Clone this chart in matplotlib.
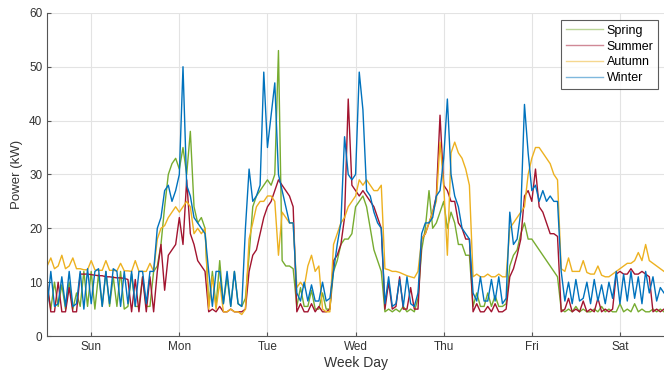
import matplotlib
matplotlib.use("Agg")
import matplotlib.pyplot as plt
import numpy as np

plt.rcParams['font.family'] = ['Liberation Sans', 'DejaVu Sans']

# hourly power readings (kW), hour 0 = Sunday 00:00, hour 168 = end of Saturday
day_labels = ["Sun", "Mon", "Tue", "Wed", "Thu", "Fri", "Sat"]
series_names = ["Spring", "Summer", "Autumn", "Winter"]

spring = [
    9, 5, 10, 5.5, 9.5, 5, 10, 5, 8,
    5.5, 12, 5.5, 12, 5, 11.5, 5.5, 12, 5.5, 11, 5.5, 12, 5, 5.5, 11.5, 5.5, 5.5, 11, 5.5, 5.5, 12,
    13, 17, 24, 30, 32, 33, 31, 35, 30, 38, 24, 21, 22, 20,
    5.5, 12, 5.5, 14, 6, 11, 5.5, 12, 6, 5.5,
    7, 15, 24, 26, 27, 28, 29, 28, 30, 53, 14, 13, 13, 12.5,
    5.5, 9, 5.5, 5.5, 8.5, 5, 5, 8, 5, 5,
    12, 14, 17, 18, 18, 19, 24, 25, 26, 24, 20, 16, 14, 12,
    4.5, 5, 4.5, 5, 4.5, 5.5, 4.5, 5, 4.5, 7,
    16, 20, 27, 20, 21, 23, 25, 20, 23, 21, 17, 17, 15, 15,
    5.5, 8, 5.5, 5.5, 8, 5.5, 7.5, 5.5, 5.5, 6,
    13, 15, 16, 19, 21, 18, 18, 17, 16, 15, 14, 13, 12, 11,
    5, 4.5, 5, 4.5, 5.5, 4.5, 5, 4.5, 4.5, 5, 4.5, 5.5, 4.5, 5, 4.5,
    4.5, 6, 4.5, 5, 4.5, 6, 4.5, 5, 4.5, 4.5, 5, 4.5, 5, 4.5,
]

summer = [
    10, 4.5, 4.5, 10, 4.5, 4.5, 9, 4.5, 4.5,
    11.5, 11.5, 11.5, 11.4, 11.3, 11.2, 11.2, 11, 11, 10.9, 10.8, 10.8, 10.7,
    10.5, 4.5, 10.5, 4.5, 11, 4.5, 11, 4.5,
    12, 17, 8.5, 15, 16, 17, 22, 17, 29, 19, 17, 14, 13, 12,
    4.5, 5, 4.5, 5.5, 4.5, 4.5, 5, 4.5, 4.5, 4.5,
    5, 12, 15, 16, 19, 22, 24, 25, 27, 29, 28, 27, 26, 24,
    4.5, 6, 4.5, 4.5, 6, 4.5, 5.5, 4.5, 4.5, 5,
    14, 15, 17, 22, 44, 28, 27, 26, 27, 26, 25, 24, 22, 20,
    5, 10, 5, 5.5, 11, 5, 5, 9, 5, 5,
    18, 19, 21, 23, 26, 41, 28, 27, 25, 25, 21, 20, 18, 18,
    4.5, 6, 4.5, 4.5, 5.5, 4.5, 6, 4.5, 4.5, 5,
    11, 12.5, 15, 18, 26, 27, 25, 31, 24, 23, 21, 19, 19, 18.5,
    4.5, 5, 7, 4.5, 5, 4.5, 6.5, 4.5, 5, 4.5, 7, 4.5, 5, 4.5, 5,
    11.5, 12, 11.5, 11.5, 12.5, 11.5, 11.5, 12, 11.5, 11,
    4.5, 5, 4.5, 5,
]

autumn = [
    13, 14.5, 12.5, 13, 15, 12.5, 13, 14.5, 12.5,
    12.5, 12.3, 12.3, 14, 12.3, 12.2, 12.2, 14, 12.2, 12.2, 12.1, 13.5, 12.1, 12.1, 12, 14, 12, 12, 12, 13.5, 12,
    18, 20, 20.5, 22, 23, 24, 23, 24, 25, 24, 19, 20, 19, 20,
    5, 11, 5, 10, 4.5, 4.5, 5, 4.5, 4.5, 4,
    5, 18, 21, 24, 25, 25, 26, 26, 25, 15, 23, 22, 21, 21,
    9, 10, 9, 13, 15, 12, 13, 5, 4.5, 4.5,
    17, 19, 21, 22, 24, 25, 26, 29, 28, 29, 28, 27, 27, 28,
    12.5, 12.3, 12, 12, 11.8, 11.5, 11.2, 11, 10.8, 12,
    18, 19, 21, 23, 25, 36, 28, 15, 34, 36, 34, 33, 31, 28,
    11, 11.5, 11, 11, 11.5, 11, 11, 11.5, 11, 11,
    20, 21, 22, 23, 24, 30, 33, 35, 35, 34, 33, 32, 30, 29,
    12.5, 12, 14.5, 12, 12, 12, 14, 11.8, 11.5, 11.5, 13, 11.3, 11, 11, 11.5,
    12, 12.5, 13, 13.5, 13.5, 14, 15.5, 14, 17, 14, 13.5, 13, 12.5, 12,
]

winter = [
    5.5, 12, 5.5, 6, 11, 5.5, 12, 5.5, 6,
    12, 5, 12.5, 6, 12, 12.5, 5.5, 12, 6, 12.5, 12, 5.5, 12, 6, 12, 5.5, 12, 12, 6, 12, 12,
    20, 22, 27, 28, 25, 27, 30, 50, 28, 26, 22, 21, 20, 19,
    12, 5.5, 12, 12, 6, 12, 5.5, 12, 6, 5.5,
    20, 31, 25, 26, 28, 49, 35, 41, 47, 30, 27, 24, 21, 21,
    8, 6.5, 10, 6.5, 9.5, 6.5, 6.5, 10, 6.5, 7,
    12, 17, 21, 37, 30, 29, 30, 49, 42, 27, 26, 23, 21, 20,
    6, 11, 5.5, 6, 10.5, 5.5, 11, 6, 5.5, 8,
    19, 21, 21, 22, 26, 27, 33, 44, 30, 26, 24, 20, 19, 18,
    8, 6.5, 11, 6.5, 6.5, 10.5, 6.5, 11, 6, 7,
    23, 17, 18, 23, 43, 34, 27, 28, 25, 27, 25, 26, 25, 25,
    12, 6.5, 10, 6, 10.5, 6.5, 7, 10, 6, 10.5, 6.5, 9.5, 6, 10, 7,
    12, 6, 11.5, 6.5, 12, 7, 11, 6, 12, 8, 11, 6.5, 9, 8,
]

colors = ["#77AC30", "#A2142F", "#EDB120", "#0072BD"]

fig = plt.figure(figsize=(6.64, 3.78), dpi=100)
ax = fig.add_axes([0.071, 0.111, 0.929, 0.855])

for name, vals, c in zip(series_names, [spring, summer, autumn, winter], colors):
    hrs = np.arange(len(vals))
    ax.plot(hrs, vals, color=c, lw=1.0, label=name)

ax.set_xlim(0, 168)
ax.set_ylim(0, 60)
ax.set_xticks(np.arange(len(day_labels)) * 24 + 12)
ax.set_xticklabels(day_labels)
ax.set_yticks(np.arange(0, 61, 10))

ax.grid(True, color="#e3e3e3", lw=0.8)
ax.set_axisbelow(True)
for s in ["top", "right"]:
    ax.spines[s].set_visible(False)
for s in ["left", "bottom"]:
    ax.spines[s].set_color("#555555")
    ax.spines[s].set_linewidth(0.8)
ax.tick_params(direction="in", length=3, colors="#555555", labelcolor="#333333", labelsize=8.5)

ax.set_xlabel("Week Day", fontsize=10, color="#333333", labelpad=2)
ax.set_ylabel("Power (kW)", fontsize=9.5, color="#333333", labelpad=4)

leg = ax.legend(loc="upper right", bbox_to_anchor=(0.997, 0.99), fontsize=9,
                frameon=True, fancybox=False, handlelength=3.0, handletextpad=0.25,
                borderpad=0.4, labelspacing=0.3, borderaxespad=0.3)
leg.get_frame().set_edgecolor("#333333")
leg.get_frame().set_linewidth(0.8)
for line in leg.get_lines():
    line.set_alpha(0.5)

fig.savefig("out.png", dpi=100)
